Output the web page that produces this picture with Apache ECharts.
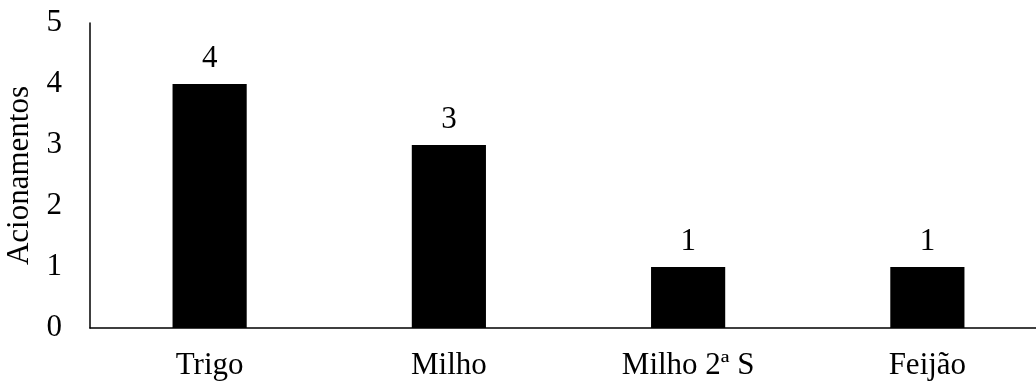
<!DOCTYPE html>
<html>
<head>
<meta charset="utf-8">
<script src="https://cdn.jsdelivr.net/npm/echarts@6/dist/echarts.min.js"></script>
<style>
  html, body { margin: 0; padding: 0; background: #fff; }
  #chart { width: 1036px; height: 382px; }
</style>
</head>
<body>
<div id="chart"></div>
<script>
// Categories and activation counts
const categories = ['Trigo', 'Milho', 'Milho 2ª S', 'Feijão'];
const acionamentos = [4, 3, 1, 1];
const yTicks = [0, 1, 2, 3, 4, 5];

const fontFamily = '"Liberation Serif", "Times New Roman", serif';
const chart = echarts.init(document.getElementById('chart'));

chart.setOption({
  backgroundColor: '#fff',
  animation: false,
  grid: {
    left: 90, right: -11, top: 23, bottom: 54,
    containLabel: false,
    outerBoundsMode: 'none'
  },
  xAxis: {
    type: 'category',
    data: categories,
    axisLine: { show: true, lineStyle: { color: '#000', width: 1.5 } },
    axisTick: { show: false },
    axisLabel: { color: '#000', fontFamily, fontSize: 31, margin: 22 }
  },
  yAxis: {
    type: 'value',
    min: yTicks[0],
    max: yTicks[yTicks.length - 1],
    interval: 1,
    name: 'Acionamentos',
    nameLocation: 'middle',
    nameGap: 55,
    nameMoveOverlap: false,
    nameTextStyle: { color: '#000', fontFamily, fontSize: 31 },
    axisLine: { show: true, lineStyle: { color: '#000', width: 1.5 } },
    axisTick: { show: false },
    splitLine: { show: false },
    axisLabel: { color: '#000', fontFamily, fontSize: 31, margin: 28 }
  },
  series: [{
    type: 'bar',
    data: acionamentos,
    barWidth: '31%',
    itemStyle: { color: '#000' },
    label: {
      show: true,
      position: 'top',
      distance: 10,
      color: '#000',
      fontFamily,
      fontSize: 31
    }
  }]
});
</script>
</body>
</html>
